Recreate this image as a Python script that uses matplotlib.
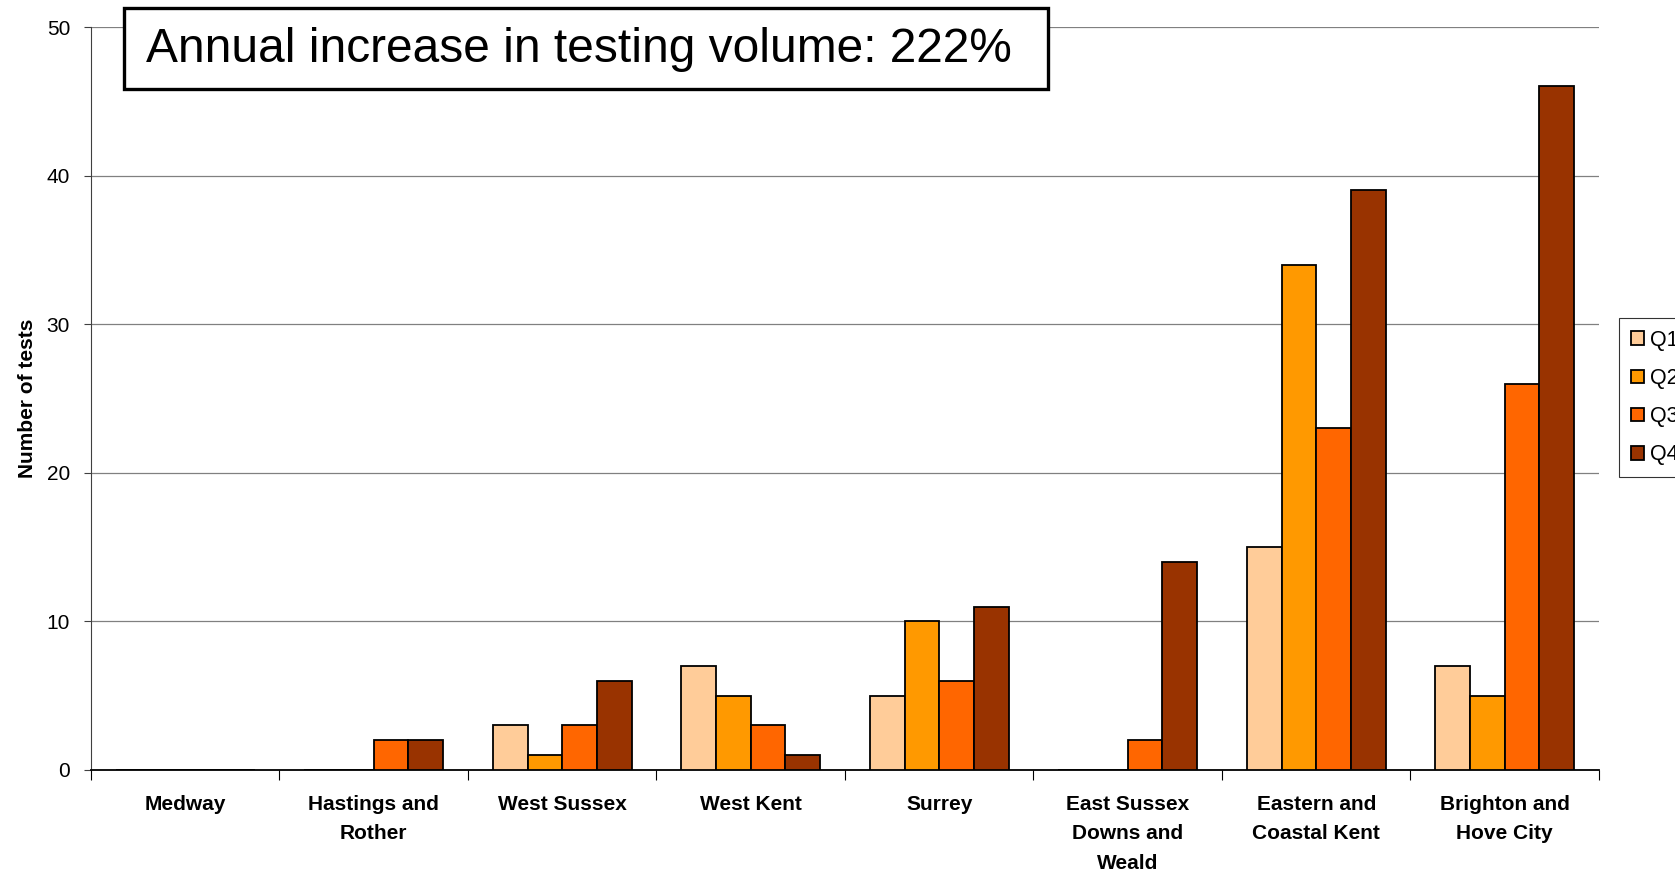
import matplotlib
matplotlib.use("Agg")
import matplotlib.pyplot as plt
from matplotlib.patches import Rectangle
import numpy as np

plt.rcParams['font.family'] = ['Liberation Sans', 'DejaVu Sans']

categories = ["Medway", "Hastings and\nRother", "West Sussex", "West Kent", "Surrey",
              "East Sussex\nDowns and\nWeald", "Eastern and\nCoastal Kent", "Brighton and\nHove City"]
q1 = [0, 0, 3, 7, 5, 0, 15, 7]
q2 = [0, 0, 1, 5, 10, 0, 34, 5]
q3 = [0, 2, 3, 3, 6, 2, 23, 26]
q4 = [0, 2, 6, 1, 11, 14, 39, 46]
series = {"Q1": q1, "Q2": q2, "Q3": q3, "Q4": q4}
colors = ["#FFCC99", "#FF9900", "#FF6600", "#993300"]
yticks = [0, 10, 20, 30, 40, 50]

W, H = 1675, 872
fig = plt.figure(figsize=(W / 100, H / 100), dpi=100)
ax = fig.add_axes([0.0543, 0.117, 0.9003, 0.852])

x = np.arange(len(categories))
bw = 0.184
handles = []
for i, (name, vals) in enumerate(series.items()):
    off = (i - 1.5) * bw
    h = ax.bar(x + off, vals, width=bw, color=colors[i], edgecolor="black",
               linewidth=1.3, label=name, zorder=3)
    handles.append(h)

ax.set_xlim(-0.5, len(categories) - 0.5)
ax.set_ylim(0, 50)
ax.set_yticks(yticks)
ax.set_yticklabels([str(v) for v in yticks], fontsize=15)
ax.yaxis.grid(True, color="#808080", linewidth=0.9, zorder=0)
ax.set_axisbelow(True)
for s in ["top", "right"]:
    ax.spines[s].set_visible(False)
ax.spines["left"].set_color("#404040")
ax.spines["bottom"].set_color("black")
ax.spines["bottom"].set_linewidth(1.3)
ax.tick_params(axis="y", direction="out", length=5, color="#404040", pad=10)

ax.set_xticks(np.arange(len(categories) + 1) - 0.5)
ax.set_xticklabels([])
ax.tick_params(axis="x", direction="out", length=7, color="black")
ax.set_xticks(x, minor=True)
ax.set_xticklabels(categories, minor=True, fontsize=15, fontweight="bold",
                   linespacing=1.7)
ax.tick_params(axis="x", which="minor", length=0, pad=18)

ax.set_ylabel("Number of tests", fontsize=15, fontweight="bold")
ax.yaxis.set_label_coords(-0.0355, 0.5)

# title box
x0, x1 = 124 / W, 1048 / W
y_top, y_bot = 1 - 8 / H, 1 - 89 / H
fig.patches.append(Rectangle((x0, y_bot), x1 - x0, y_top - y_bot,
                             transform=fig.transFigure, facecolor="white",
                             edgecolor="black", linewidth=2.4, zorder=5))
fig.text(146 / W, 1 - 50 / H, "Annual increase in testing volume: 222%",
         fontsize=34.5, ha="left", va="center", zorder=6)

leg = fig.legend(handles=handles, labels=list(series.keys()), loc="center left",
                 bbox_to_anchor=(0.9665, 0.544), fontsize=15.5, frameon=True,
                 fancybox=False, edgecolor="black", handlelength=0.6,
                 handleheight=0.6, labelspacing=0.8, handletextpad=0.3,
                 borderpad=0.55, borderaxespad=0)
leg.get_frame().set_linewidth(0.8)

fig.savefig("out.png", dpi=100)
